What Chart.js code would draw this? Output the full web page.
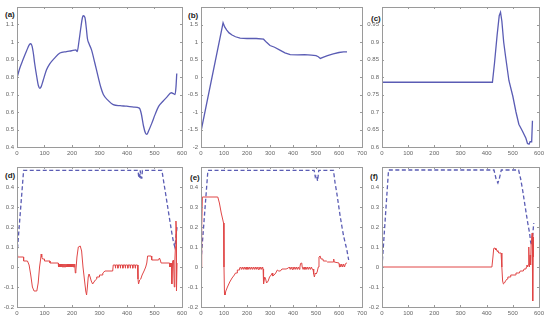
<!DOCTYPE html>
<html>
<head>
<meta charset="utf-8">
<script src="https://cdn.jsdelivr.net/npm/chart.js@4/dist/chart.umd.min.js"></script>
<style>
  body { margin: 0; background: #fff; width: 550px; height: 324px; position: relative; overflow: hidden; }
  canvas { position: absolute; }
  .tag { position: absolute; font: bold 8px "Liberation Sans", Arial, sans-serif; color: #222; line-height: 1; }
</style>
</head>
<body>
<div class="tag" style="left:5px;top:11px">(a)</div>
<div class="tag" style="left:188px;top:12px">(b)</div>
<div class="tag" style="left:371px;top:15px">(c)</div>
<div class="tag" style="left:5px;top:172px">(d)</div>
<div class="tag" style="left:190px;top:174px">(e)</div>
<div class="tag" style="left:370px;top:173px">(f)</div>
<script>
// ---- data: [x, y] ----
const aPts = [[0,0.795],[10,0.85],[22,0.9],[35,0.95],[45,0.985],[50,0.99],[55,0.975],[60,0.93],[64,0.88],[72,0.8],[78,0.75],[83,0.735],[88,0.745],
  [95,0.78],[107,0.84],[119,0.875],[135,0.905],[156,0.937],[180,0.945],[198,0.95],[214,0.955],[219,0.945],[225,1.0],[232,1.08],[238,1.14],
  [241,1.15],[247,1.14],[252,1.08],[256,1.02],[262,0.99],[271,0.955],[283,0.88],[296,0.795],[305,0.74],[314,0.7],[332,0.665],[350,0.642],
  [375,0.636],[399,0.633],[425,0.628],[445,0.622],[452,0.59],[460,0.52],[467,0.48],[472,0.472],[478,0.49],[490,0.535],[502,0.585],
  [515,0.632],[530,0.66],[545,0.685],[561,0.71],[569,0.705],[575,0.7],[578,0.74],[581,0.82]];

const bPts = [[0,-1.55],[96,1.55],[103,1.43],[112,1.34],[122,1.26],[135,1.2],[150,1.15],[170,1.11],[200,1.1],[240,1.1],[272,1.08],[285,0.99],
  [300,0.9],[320,0.85],[345,0.76],[365,0.69],[388,0.64],[420,0.63],[450,0.64],[480,0.625],[500,0.61],[510,0.58],[519,0.53],[530,0.56],
  [550,0.61],[575,0.66],[600,0.7],[620,0.72],[635,0.72]];

const cPts = [[0,0.785],[422,0.785],[430,0.84],[440,0.92],[448,0.975],[453,0.985],[458,0.96],[465,0.9],[472,0.86],[485,0.79],[500,0.745],
  [512,0.7],[523,0.665],[537,0.645],[550,0.625],[556,0.61],[562,0.608],[566,0.615],[572,0.615],[575,0.675]];

const dBlue = [[0,0.06],[24,0.483],[440,0.483],[443,0.445],[446,0.445],[448,0.483],[451,0.445],[454,0.445],[456,0.483],[527,0.483],
  [533,0.43],[540,0.37],[548,0.3],[556,0.23],[563,0.17],[569,0.125],[574,0.1],[578,0.15],[582,0.2]];

const dRed = [[0,0.062],[2,0.05],[24,0.05],[24,0.03],[38,0.03],[44,0.01],[50,-0.04],[56,-0.1],[62,-0.12],[72,-0.12],[77,-0.08],[82,0],
  [86,0.04],[88,0.065],[90,0.05],[93,0.04],[100,0.04],[100,0.03],[120,0.03],[120,0.02],[150,0.02],
  [150,0.015],[152,0],[154,0.015],[156,0],[158,0.015],[160,0],[162,0.015],[164,0],[166,0.015],[168,0],[170,0.015],[172,0],[174,0.015],
  [176,0],[178,0.015],[180,0],[182,0.015],[184,0],[186,0.015],[188,0],[190,0.015],[192,0],[194,0.015],[196,0],[198,0.015],[200,0],
  [202,0.015],[204,0],[206,0.015],[208,0],[210,0.015],
  [212,-0.03],[214,-0.02],[218,0.05],[223,0.1],[230,0.105],[235,0.08],[240,0],[245,-0.06],[250,-0.12],[253,-0.14],[256,-0.1],[259,-0.05],
  [262,-0.035],[266,-0.05],[270,-0.07],[275,-0.085],[280,-0.075],[285,-0.065],[290,-0.06],[290,-0.05],[300,-0.05],[300,-0.04],[312,-0.04],
  [312,-0.03],[320,-0.02],[348,-0.02],
  [350,0.01],[357,0.01],[358,-0.006],[359,0.01],[366,0.01],[367,-0.006],[368,0.01],[375,0.01],[376,-0.006],[377,0.01],[384,0.01],
  [385,-0.006],[386,0.01],[393,0.01],[394,-0.006],[395,0.01],[402,0.01],[403,-0.006],[404,0.01],[411,0.01],[412,-0.006],[413,0.01],
  [420,0.01],[421,-0.006],[422,0.01],[429,0.01],[430,-0.006],[431,0.01],[438,0.01],
  [440,-0.06],[442,-0.085],[446,-0.065],[450,-0.06],[455,-0.04],[462,-0.02],[468,0],[472,0.02],[475,0.055],[488,0.055],[490,0.035],
  [515,0.035],[518,0.045],[521,0.035],[524,0.02],[555,0.02],[556,0],[558,0.02],[560,0],[562,0.02],[563,-0.085],[566,0.03],[569,0.035],
  [572,-0.1],[574,0.03],[576,0.1],[578,0.23],[579,0.2],[580,-0.12],[582,0.02]];

const eBlue = [[0,0.03],[30,0.483],[492,0.483],[497,0.45],[502,0.46],[507,0.43],[512,0.483],[576,0.483],[583,0.42],[590,0.373],
  [598,0.31],[605,0.255],[613,0.2],[620,0.155],[628,0.115],[634,0.087],[642,0.035]];

const eRed = [[0,0],[3,0.2],[6,0.35],[73,0.35],[80,0.32],[88,0.27],[95,0.235],[98,0.22],[100,0],[102,-0.13],[104,-0.14],[108,-0.12],
  [115,-0.1],[125,-0.075],[135,-0.055],[145,-0.04],[150,-0.03],[158,-0.03],[158,-0.015],[166,-0.015],[168,-0.005],
  [172,0],[176,-0.012],[180,0],[184,-0.012],[188,0],[192,-0.012],[196,0],[200,-0.012],[204,0],[208,-0.012],[212,0],[216,-0.012],
  [220,0],[224,-0.012],[228,0],[232,-0.012],[236,0],[240,-0.012],[244,0],[248,-0.012],[252,0],[256,-0.012],[260,0],[264,-0.012],
  [268,0],[270,-0.01],
  [272,-0.085],[277,-0.05],[281,-0.06],[285,-0.08],[292,-0.07],[298,-0.05],[305,-0.04],[310,-0.03],[312,-0.045],[318,-0.04],
  [325,-0.03],[332,-0.015],[338,-0.02],[345,-0.02],[352,-0.01],[370,-0.01],[380,-0.005],
  [384,0],[388,-0.012],[392,0],[396,-0.012],[400,0],[404,-0.012],[408,0],[412,-0.012],[416,0],[420,-0.012],[424,0],[428,-0.012],
  [430,0],[433,0.018],[438,0.02],[440,0],
  [444,-0.012],[448,0],[452,-0.012],[456,0],[460,-0.012],[464,0],[468,-0.012],[472,0],[476,-0.012],[480,0],[484,-0.012],[487,-0.01],
  [490,-0.035],[493,-0.05],[497,-0.03],[500,-0.035],[505,-0.025],[510,0],[513,0.05],[518,0.055],[522,0.04],[530,0.04],[532,0.03],
  [545,0.03],[550,0.025],[575,0.025],[577,0.04],[579,0.025],[600,0.02],
  [602,0],[604,0.015],[608,0],[612,0.015],[616,0],[620,0.015],[624,0],[628,0.015],[632,0.02],[635,0.02]];

const fBlue = [[0,0],[25,0.485],[428,0.485],[436,0.44],[443,0.42],[448,0.44],[456,0.485],[522,0.485],[530,0.44],[538,0.38],
  [545,0.32],[551,0.27],[557,0.22],[564,0.17],[568,0.125],[572,0.11],[576,0.16],[580,0.22]];

const fRed = [[0,0],[420,0],[424,0.05],[427,0.093],[432,0.095],[435,0.085],[437,0.09],[440,0.078],[443,0.082],[446,0.07],[455,0.07],
  [458,0],[461,-0.07],[464,-0.085],[468,-0.08],[472,-0.07],[478,-0.06],[481,-0.05],[490,-0.05],[492,-0.04],[510,-0.04],[512,-0.03],
  [525,-0.03],[528,-0.02],[540,-0.02],[543,-0.01],[550,-0.01],[552,0],[554,0.01],[556,0],[558,0.01],[561,0.1],[563,0],[566,0.06],
  [568,0.01],[570,0.12],[572,0.15],[574,0.17],[576,-0.17],[578,0.15],[579,0.05]];

const xTickStep = 100;

const BLUE = "#5a5cb4";
const RED = "#e04646";
const PADL = 22, PADT = 8, PADR = 8, PADB = 14;

const framePlugin = {
  id: "frame",
  afterDraw(chart) {
    const { ctx, chartArea: a, scales } = chart;
    ctx.save();
    ctx.strokeStyle = "#9a9a9a";
    ctx.lineWidth = 1;
    ctx.strokeRect(Math.round(a.left) + 0.5, Math.round(a.top) + 0.5, Math.round(a.right - a.left), Math.round(a.bottom - a.top));
    ctx.beginPath();
    scales.x.ticks.forEach((t) => {
      const px = Math.round(scales.x.getPixelForValue(t.value)) + 0.5;
      ctx.moveTo(px, a.bottom); ctx.lineTo(px, a.bottom - 2);
      ctx.moveTo(px, a.top); ctx.lineTo(px, a.top + 2);
    });
    scales.y.ticks.forEach((t) => {
      const py = Math.round(scales.y.getPixelForValue(t.value)) + 0.5;
      ctx.moveTo(a.left, py); ctx.lineTo(a.left + 2, py);
      ctx.moveTo(a.right, py); ctx.lineTo(a.right - 2, py);
    });
    ctx.stroke();
    ctx.restore();
  },
};

function pts(list) {
  return list.map((p) => ({ x: p[0], y: p[1] }));
}

function lineSet(list, kind, smooth) {
  const ds = {
    data: pts(list),
    borderColor: kind === "red" ? RED : BLUE,
    borderWidth: kind === "red" ? 1 : 1.3,
    pointRadius: 0,
    tension: 0,
  };
  if (kind === "dash") ds.borderDash = [4, 2.5];
  if (smooth) ds.cubicInterpolationMode = "monotone";
  return ds;
}

function fmt(v) {
  return String(parseFloat(v.toFixed(2)));
}

function makePanel(p) {
  const c = document.createElement("canvas");
  const W = p.w + PADL + PADR, H = p.h + PADT + PADB;
  c.width = W; c.height = H;
  c.style.left = p.left - PADL + "px";
  c.style.top = p.top - PADT + "px";
  c.style.width = W + "px";
  c.style.height = H + "px";
  document.body.appendChild(c);

  const tickFont = { family: "'Liberation Sans', Arial, sans-serif", size: 6 };
  new Chart(c.getContext("2d"), {
    type: "line",
    data: { datasets: p.datasets },
    options: {
      responsive: false,
      animation: false,
      events: [],
      layout: { padding: { top: PADT, right: PADR, left: 0, bottom: 0 } },
      plugins: { legend: { display: false }, tooltip: { enabled: false } },
      scales: {
        x: {
          type: "linear",
          min: 0,
          max: p.xMax,
          grid: { display: false, drawTicks: false },
          border: { display: false },
          ticks: { stepSize: xTickStep, font: tickFont, color: "#666", padding: 3, maxRotation: 0, autoSkip: false, callback: (v) => fmt(v) },
          afterFit: (s) => { s.height = PADB; },
        },
        y: {
          min: p.yMin,
          max: p.yMax,
          grid: { display: false, drawTicks: false },
          border: { display: false },
          ticks: {
            stepSize: p.yStep, font: tickFont, color: "#666", padding: 3, autoSkip: false,
            callback: (v) => (v >= p.yMax - 1e-9 ? "" : fmt(v)),
          },
          afterFit: (s) => { s.width = PADL; },
        },
      },
    },
    plugins: [framePlugin],
  });
}

const panels = [
  { left: 17, top: 7, w: 165, h: 140, xMax: 600, yMin: 0.4, yMax: 1.2, yStep: 0.1, datasets: [lineSet(aPts, "blue", true)] },
  { left: 201, top: 7, w: 161, h: 140, xMax: 700, yMin: -2, yMax: 2, yStep: 0.5, datasets: [lineSet(bPts, "blue", false)] },
  { left: 382, top: 7, w: 157, h: 140, xMax: 600, yMin: 0.6, yMax: 1.0, yStep: 0.05, datasets: [lineSet(cPts, "blue", false)] },
  { left: 17, top: 167, w: 165, h: 140, xMax: 600, yMin: -0.2, yMax: 0.5, yStep: 0.1, datasets: [lineSet(dRed, "red"), lineSet(dBlue, "dash")] },
  { left: 201, top: 167, w: 161, h: 140, xMax: 700, yMin: -0.2, yMax: 0.5, yStep: 0.1, datasets: [lineSet(eRed, "red"), lineSet(eBlue, "dash")] },
  { left: 382, top: 167, w: 157, h: 140, xMax: 600, yMin: -0.2, yMax: 0.5, yStep: 0.1, datasets: [lineSet(fRed, "red"), lineSet(fBlue, "dash")] },
];

panels.forEach(makePanel);
</script>
</body>
</html>
